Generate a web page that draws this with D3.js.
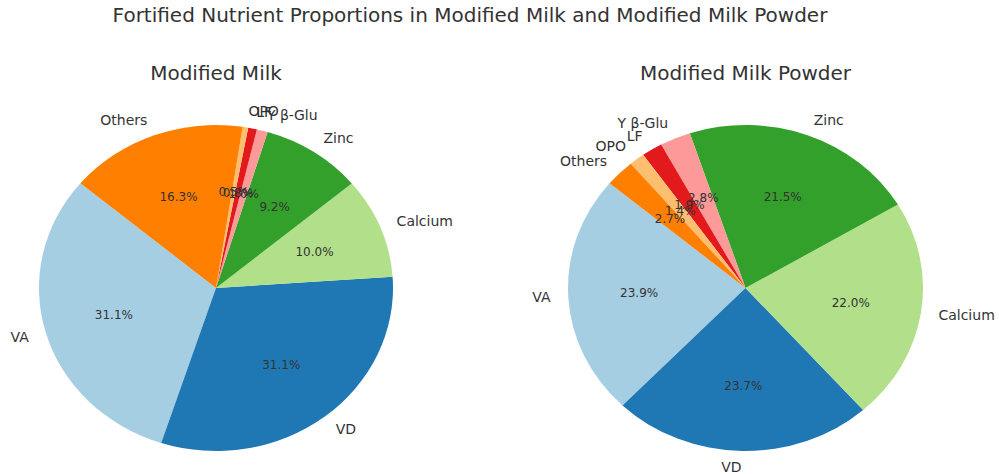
<!DOCTYPE html>
<html>
<head>
<meta charset="utf-8">
<script src="https://cdn.jsdelivr.net/npm/d3@7"></script>
<style>
  html, body { margin: 0; padding: 0; background: #fff; }
  svg { display: block; font-family: "DejaVu Sans", sans-serif; }
</style>
</head>
<body>
<svg id="chart" width="999" height="474"></svg>
<script>
// Fortified nutrients, in slice order (counter-clockwise from the start angle)
const nutrients = ["VA", "VD", "Calcium", "Zinc", "Y β-Glu", "LF", "OPO", "Others"];
// Share of each nutrient (%)
const milkShares = [31.1, 31.1, 10.0, 9.2, 1.0, 0.8, 0.5, 16.3];
const powderShares = [23.9, 23.7, 22.0, 21.5, 2.8, 1.9, 1.4, 2.7];
const colors = ["#a6cee3", "#1f78b4", "#b2df8a", "#33a02c", "#fb9a99", "#e31a1c", "#fdbf6f", "#ff7f00"];

const svg = d3.select("#chart");

svg.append("text")
  .attr("x", 470).attr("y", 22)
  .attr("text-anchor", "middle")
  .attr("font-size", 20)
  .attr("fill", "#333")
  .text("Fortified Nutrient Proportions in Modified Milk and Modified Milk Powder");

const color = d3.scaleOrdinal().domain(nutrients).range(colors);

// Start angle 140° (math convention), slices run counter-clockwise
const startDeg = 140;

function drawPie(title, shares, cx, cy, rx, ry) {
  const g = svg.append("g");
  g.append("text")
    .attr("x", cx).attr("y", 80)
    .attr("text-anchor", "middle")
    .attr("font-size", 20)
    .attr("fill", "#333")
    .text(title);

  const data = nutrients.map((n, i) => ({ name: n, value: shares[i] }));
  const total = d3.sum(shares);
  // d3 angles: 0 at 12 o'clock, clockwise. Convert to counter-clockwise from startDeg.
  const a0 = (90 - startDeg) * Math.PI / 180;
  const pie = d3.pie().sort(null).value(d => d.value)
    .startAngle(a0).endAngle(a0 - 2 * Math.PI);
  const arcs = pie(data);
  const arc = d3.arc().innerRadius(0).outerRadius(rx);

  const wedges = g.append("g")
    .attr("transform", `translate(${cx},${cy}) scale(1,${ry / rx})`);
  wedges.selectAll("path").data(arcs).enter().append("path")
    .attr("d", arc)
    .attr("fill", d => color(d.data.name));

  const pt = (d, f) => {
    const m = (d.startAngle + d.endAngle) / 2;
    return [cx + f * rx * Math.sin(m), cy - f * ry * Math.cos(m)];
  };

  // Category labels just outside the rim
  g.selectAll("text.lbl").data(arcs).enter().append("text")
    .attr("class", "lbl")
    .attr("x", d => pt(d, 1.1)[0])
    .attr("y", d => pt(d, 1.1)[1])
    .attr("dy", "0.35em")
    .attr("text-anchor", d => pt(d, 1.1)[0] > cx ? "start" : "end")
    .attr("font-size", 14)
    .attr("fill", "#333")
    .text(d => d.data.name);

  // Percentages inside the wedges
  g.selectAll("text.pct").data(arcs).enter().append("text")
    .attr("class", "pct")
    .attr("x", d => pt(d, 0.6)[0])
    .attr("y", d => pt(d, 0.6)[1])
    .attr("dy", "0.35em")
    .attr("text-anchor", "middle")
    .attr("font-size", 12)
    .attr("fill", "#333")
    .text(d => (d.data.value / total * 100).toFixed(1) + "%");
}

drawPie("Modified Milk", milkShares, 216, 288, 177, 163);
drawPie("Modified Milk Powder", powderShares, 745.5, 288, 177.5, 163);
</script>
</body>
</html>
